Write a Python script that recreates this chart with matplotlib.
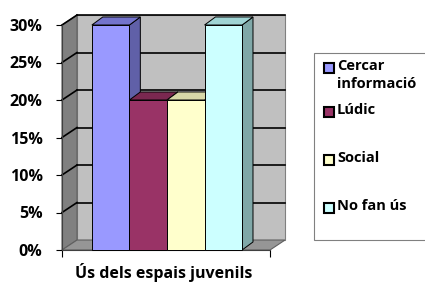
import matplotlib.pyplot as plt
from matplotlib.patches import Polygon, Rectangle

categories = ['Cercar\ninformació', 'Lúdic', 'Social', 'No fan ús']
values = [30, 20, 20, 30]
yticks = [0, 5, 10, 15, 20, 25, 30]
ytick_labels = ['0%', '5%', '10%', '15%', '20%', '25%', '30%']
xlabel = 'Ús dels espais juvenils'

front = ['#9999FF', '#993366', '#FFFFCC', '#CCFFFF']
side = ['#6060A8', '#6E2449', '#C8C89C', '#80A8A8']
top = ['#7474CC', '#7A2850', '#D8D8A8', '#A0D4D4']

plt.rcParams['font.family'] = ['Open Sans', 'DejaVu Sans']

fig = plt.figure(figsize=(4.25, 2.82), dpi=100)
ax = fig.add_axes([62/425, (282-250)/282, (270-62)/425, 225/282])
x0, x1 = -1.296, 4.243
ax.set_xlim(x0, x1)
ax.set_ylim(0, 30)

# depth offsets (data units)
wdx, wdy = 0.40, 1.33
bdx, bdy = 0.29, 1.07
ymax = 30

# back wall
ax.add_patch(Polygon([(x0+wdx, wdy), (x1+wdx, wdy), (x1+wdx, ymax+wdy), (x0+wdx, ymax+wdy)],
                     closed=True, fc='#C0C0C0', ec='#808080', lw=0.8, clip_on=False, zorder=1))
# left wall
ax.add_patch(Polygon([(x0, 0), (x0+wdx, wdy), (x0+wdx, ymax+wdy), (x0, ymax)],
                     closed=True, fc='#808080', ec='#606060', lw=0.8, clip_on=False, zorder=1))
# floor
ax.add_patch(Polygon([(x0, 0), (x1, 0), (x1+wdx, wdy), (x0+wdx, wdy)],
                     closed=True, fc='#969696', ec='#606060', lw=0.8, clip_on=False, zorder=1))
for t in yticks[1:]:
    ax.plot([x0+wdx, x1+wdx], [t+wdy, t+wdy], color='black', lw=1.2, clip_on=False, zorder=2)
    ax.plot([x0, x0+wdx], [t, t+wdy], color='black', lw=1.2, clip_on=False, zorder=2)

# bars
for i, v in enumerate(values):
    l, r = i - 0.5, i + 0.5
    ax.add_patch(Polygon([(r, 0), (r+bdx, bdy), (r+bdx, v+bdy), (r, v)], closed=True,
                         fc=side[i], ec='black', lw=0.7, clip_on=False, zorder=3+i))
    ax.add_patch(Polygon([(l, v), (r, v), (r+bdx, v+bdy), (l+bdx, v+bdy)], closed=True,
                         fc=top[i], ec='black', lw=0.7, clip_on=False, zorder=3+i))
    ax.add_patch(Rectangle((l, 0), 1, v, fc=front[i], ec='black', lw=0.7,
                           clip_on=False, zorder=3+i))

for s in ['top', 'right']:
    ax.spines[s].set_visible(False)
ax.spines['left'].set_color('#404040')
ax.spines['bottom'].set_color('#404040')
ax.set_yticks(yticks)
ax.set_yticklabels(ytick_labels, fontsize=11.5, fontweight='bold')
ax.set_xticks([x0, x1])
ax.set_xticklabels(['', ''])
ax.tick_params(axis='y', length=4, pad=10)
ax.tick_params(axis='x', length=5)
ax.patch.set_alpha(0)

fig.text(164/425, 1 - 272/282, xlabel, ha='center', va='center', fontsize=11.5, fontweight='bold')

# legend
fig.patches.append(Rectangle((314/425, 1 - 240/282), 130/425, 187/282, transform=fig.transFigure,
                             fc='white', ec='#808080', lw=0.8))
leg_y = [68, 112, 160, 208]
for c, lab, y in zip(front, categories, leg_y):
    fig.patches.append(Rectangle((324/425, 1 - (y+5)/282), 10/425, 10/282, transform=fig.transFigure,
                                 fc=c, ec='black', lw=1.5))
    fig.text(337/425, 1 - (y-9)/282, lab, ha='left', va='top', fontsize=10.5,
             fontweight='bold', linespacing=1.35)

fig.savefig('out.png', dpi=100)
